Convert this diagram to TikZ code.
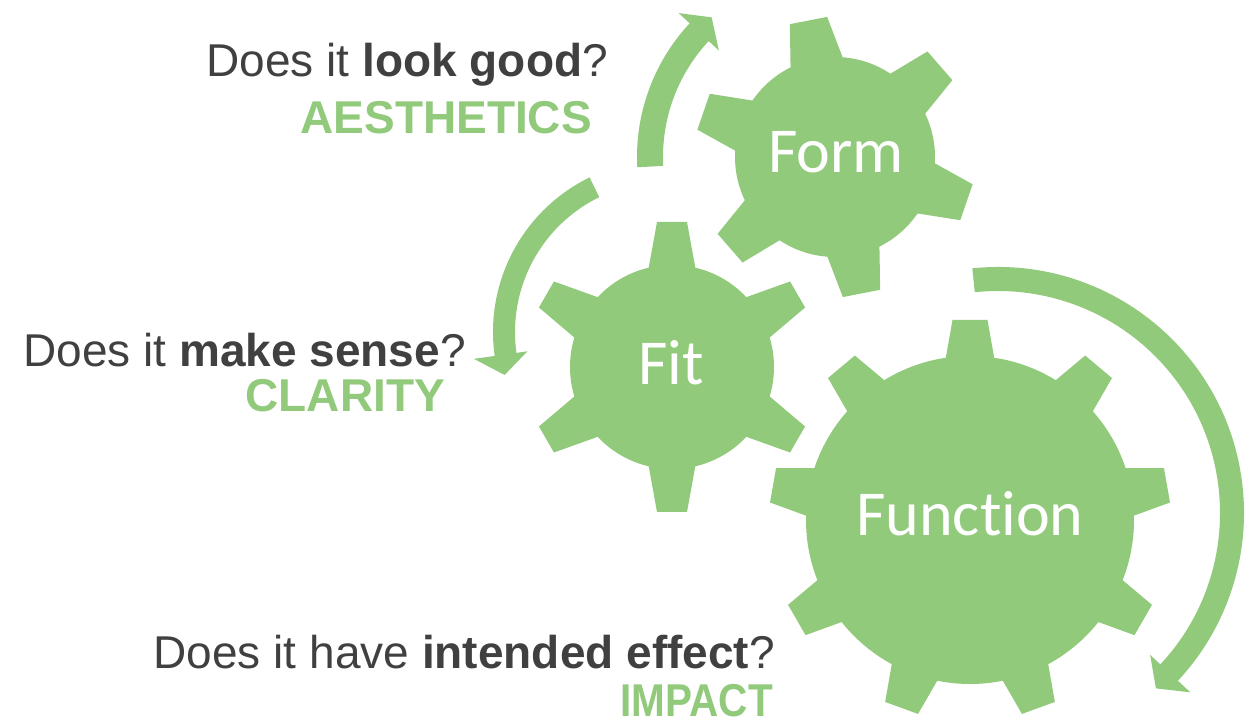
\documentclass[tikz,border=0pt]{standalone}
\usepackage{fontspec}
\setmainfont{Liberation Sans}
\newfontfamily\gearfont[Ligatures=NoCommon]{Carlito}
\usetikzlibrary{calc}
\definecolor{gr}{RGB}{146,202,124}
\definecolor{tx}{RGB}{64,64,64}
\begin{document}
\begin{tikzpicture}[x=1pt,y=1pt,
  gearfill/.style={fill=gr},
  q/.style={anchor=base east, inner sep=0pt, text=tx, font=\fontsize{46}{50}\selectfont},
  kw/.style={anchor=base east, inner sep=0pt, text=gr, font=\fontsize{46}{50}\selectfont\bfseries},
  glabel/.style={text=white, inner sep=0pt, font=\gearfont\fontsize{64}{70}\selectfont}]
\useasboundingbox (0,0) rectangle (1253,727);
\fill[white] (0,0) rectangle (1253,727);

% gear centres
\coordinate (cfo) at (835,570);
\coordinate (cfi) at (672,360);
\coordinate (cfu) at (970,207);

% Form gear
\fill[gearfill] (cfo) circle[radius=100];
\foreach \a in {41,101,...,341}
  \fill[gearfill, shift={(cfo)}, rotate=\a] (88,-28) -- (139,-19) -- (139,19) -- (88,28) -- cycle;

% Fit gear
\fill[gearfill] (cfi) circle[radius=102];
\foreach \a in {30,90,...,330}
  \fill[gearfill, shift={(cfi)}, rotate=\a] (90,-25) -- (145,-15) -- (145,15) -- (90,25) -- cycle;

% Function gear
\fill[gearfill] (cfu) circle[radius=164];
\foreach \a in {90,130,...,410}
  \fill[gearfill, shift={(cfu)}, rotate=\a] (152,-26) -- (200,-17.5) -- (200,17.5) -- (152,26) -- cycle;

% curved arrows
\coordinate (a1) at (833,570);
\coordinate (a2) at (665,395);
\coordinate (a3) at (998,214);

\fill[gearfill] ($(a1)+(183:196)$) arc[start angle=183, end angle=137, radius=196]
  -- ($(a1)+(137:211)$) -- ($(a1)+(131:185)$) -- ($(a1)+(137:156)$)
  -- ($(a1)+(137:170)$) arc[start angle=137, end angle=183, radius=170] -- cycle;

\fill[gearfill] ($(a2)+(116:172)$) arc[start angle=116, end angle=188, radius=172]
  -- ($(a2)+(188:193)$) -- ($(a2)+(195:166)$) -- ($(a2)+(188:139)$)
  -- ($(a2)+(188:150)$) arc[start angle=188, end angle=116, radius=150] -- cycle;

\fill[gearfill] ($(a3)+(96:246)$) arc[start angle=96, end angle=-43, radius=246]
  -- ($(a3)+(-43:263)$) -- ($(a3)+(-48:236)$) -- ($(a3)+(-43:208)$)
  -- ($(a3)+(-43:222)$) arc[start angle=-43, end angle=96, radius=222] -- cycle;

% gear labels
\node[glabel] (form) at (836,575) {Form};
\node[glabel] (fit) at (671,364) {Fit};
\node[glabel] (function) at (970,213) {Function};

% questions and keywords
\node[q] (q1) at (608,650) {Does it \textbf{look good}?};
\node[kw] (k1) at (592,593) {AESTHETICS};
\node[q] (q2) at (466,360) {Does it \textbf{make sense}?};
\node[kw] (k2) at (445,315) {CLARITY};
\node[q] (q3) at (775,58) {Does it have \textbf{intended effect}?};
\node[kw] (k3) at (773,10) {\scalebox{0.88}[1]{IMPACT}};
\end{tikzpicture}
\end{document}
